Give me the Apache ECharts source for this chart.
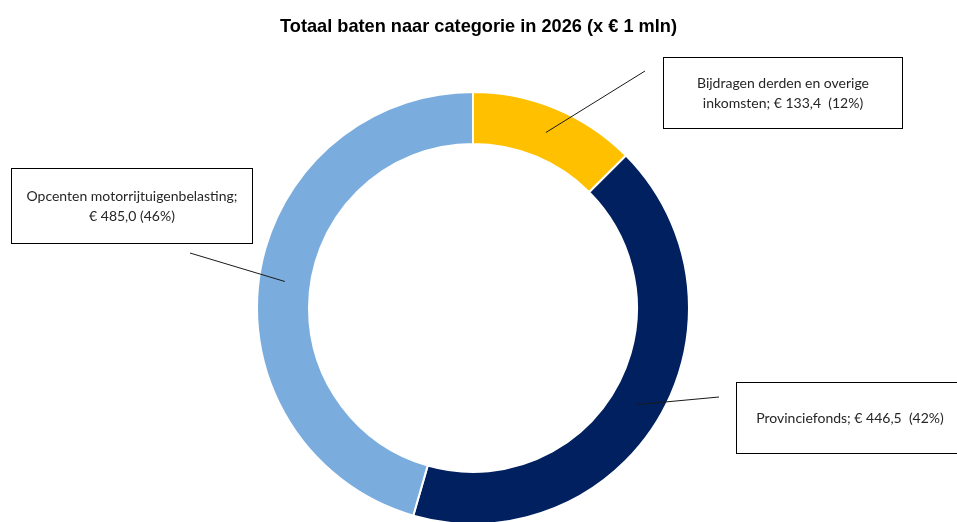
<!DOCTYPE html>
<html>
<head>
<meta charset="utf-8">
<script src="https://cdn.jsdelivr.net/npm/echarts@6/dist/echarts.min.js"></script>
<style>
html,body{margin:0;padding:0;background:#fff;}
#chart{width:957px;height:522px;}
</style>
</head>
<body>
<div id="chart"></div>
<script>
// ---- data ----
const categories = ['Bijdragen derden en overige inkomsten', 'Provinciefonds', 'Opcenten motorrijtuigenbelasting'];
const values = [133.4, 446.5, 485.0];
const percentLabels = ['12%', '42%', '46%'];
const colors = ['#FFC000', '#002060', '#7AADDE'];
const titleText = 'Totaal baten naar categorie in 2026 (x € 1 mln)';
// text as wrapped in the reference boxes
const labelNames = ['Bijdragen derden en overige\ninkomsten', 'Provinciefonds', 'Opcenten motorrijtuigenbelasting'];
const labelSeparators = ['; ', '; ', ';\n'];
const valueGaps = ['  ', '  ', ' '];

// ---- layout ----
const CX = 473, CY = 308, R_IN = 164, R_OUT = 216, R_MID = 190;
// label box centres and leader-line end offsets (relative to box centre)
const labelBoxes = [
  { cx: 783, cy: 93, width: 218, padding: [17, 10, 13, 10], lineEnd: [-138, -22] },
  { cx: 860, cy: 418, width: 206, padding: [27, 30, 23, 10], lineEnd: [-141, -21] },
  { cx: 132, cy: 206, width: 220, padding: [18, 10, 16, 10], lineEnd: [58, 47] }
];

function fmtValue(v) {
  return v.toFixed(1).replace('.', ',');
}

const chart = echarts.init(document.getElementById('chart'));
const pieData = categories.map((c, i) => ({
  name: c,
  value: values[i],
  itemStyle: { color: colors[i] },
  label: { width: labelBoxes[i].width, padding: labelBoxes[i].padding }
}));
const option = {
  backgroundColor: '#fff',
  animation: false,
  title: {
    text: titleText,
    left: 'center',
    top: 18,
    padding: 0,
    textStyle: { fontFamily: 'Liberation Sans, Arial, sans-serif', fontWeight: 'bold', fontSize: 18.2, color: '#000' }
  },
  series: [{
    // visible ring
    type: 'pie',
    z: 2,
    center: [CX, CY],
    radius: [R_IN, R_OUT],
    startAngle: 90,
    clockwise: true,
    silent: true,
    itemStyle: { borderColor: '#fff', borderWidth: 2 },
    label: { show: false },
    labelLine: { show: false },
    data: pieData
  }, {
    // same data, transparent, carries the boxed labels and leader lines above the ring
    type: 'pie',
    z: 5,
    center: [CX, CY],
    radius: [R_IN, R_OUT],
    startAngle: 90,
    clockwise: true,
    silent: true,
    avoidLabelOverlap: false,
    itemStyle: { color: 'rgba(0,0,0,0)', borderWidth: 0 },
    data: pieData.map(d => Object.assign({}, d, { itemStyle: { color: 'rgba(0,0,0,0)' } })),
    label: {
      show: true,
      position: 'outside',
      formatter: (p) => labelNames[p.dataIndex] + labelSeparators[p.dataIndex] + '€ ' + fmtValue(p.value) + valueGaps[p.dataIndex] + '(' + percentLabels[p.dataIndex] + ')',
      fontFamily: 'Lato, sans-serif',
      fontSize: 14,
      lineHeight: 20,
      color: '#262626',
      align: 'center',
      overflow: 'none',
      backgroundColor: '#fff',
      borderColor: '#000',
      borderWidth: 1
    },
    labelLine: {
      show: true,
      showAbove: true,
      length: 20,
      length2: 20,
      lineStyle: { color: '#1a1a1a', width: 1 }
    },
    labelLayout: function (params) {
      const i = params.dataIndex;
      const b = labelBoxes[i];
      const p0 = params.labelLinePoints ? params.labelLinePoints[0] : [CX, CY + 1];
      const k = R_MID / Math.hypot(p0[0] - CX, p0[1] - CY);
      const start = [CX + (p0[0] - CX) * k, CY + (p0[1] - CY) * k];
      const end = [b.cx + b.lineEnd[0], b.cy + b.lineEnd[1]];
      return {
        x: b.cx,
        y: b.cy,
        align: 'center',
        verticalAlign: 'middle',
        labelLinePoints: [start, end, end]
      };
    }
  }]
};
chart.setOption(option);
</script>
</body>
</html>
